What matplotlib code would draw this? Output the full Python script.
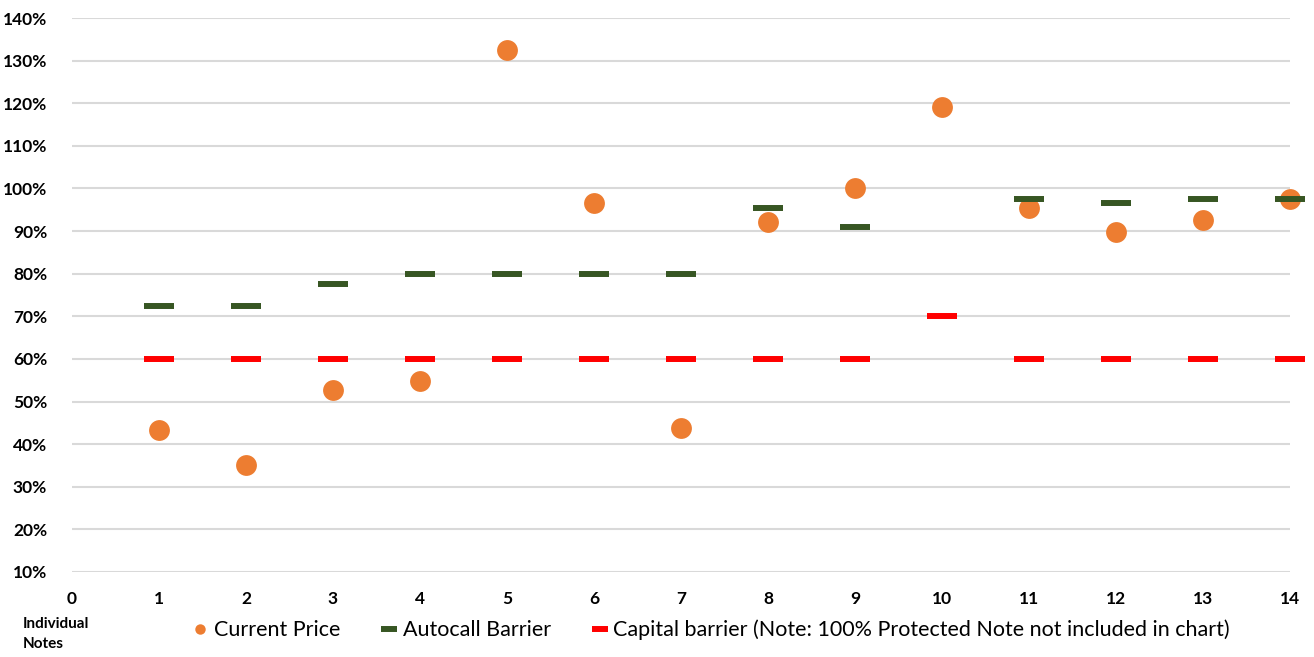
import matplotlib
matplotlib.use("Agg")
import matplotlib.pyplot as plt
from matplotlib.ticker import FuncFormatter

# note number on x, levels in % of initial
notes = [1, 2, 3, 4, 5, 6, 7, 8, 9, 10, 11, 12, 13, 14]
current_price = [43.3, 35.2, 52.7, 54.8, 132.5, 96.5, 43.8, 92.2, 100.0, 119.0, 95.5, 89.7, 92.5, 97.5]
# note 10 has no autocall barrier
autocall = [72.5, 72.5, 77.5, 80, 80, 80, 80, 95.5, 91, None, 97.5, 96.5, 97.5, 97.5]
capital = [60, 60, 60, 60, 60, 60, 60, 60, 60, 70, 60, 60, 60, 60]

ac_x = [n for n, v in zip(notes, autocall) if v is not None]
ac_y = [v for v in autocall if v is not None]

plt.rcParams['font.family'] = ['Lato', 'DejaVu Sans']

fig = plt.figure(figsize=(13.14, 6.57), dpi=100)
ax = fig.add_axes([0.0548, 0.1294, 0.9269, 0.8432])

ax.plot(notes, current_price, 'o', color='#ED7D31', markersize=15,
        markeredgewidth=0, linestyle='none', label='Current Price', zorder=3,
        clip_on=False)
ax.plot(ac_x, ac_y, '_', color='#375623', markersize=22, markeredgewidth=4.3,
        linestyle='none', label='Autocall Barrier', zorder=4, clip_on=False)
ax.plot(notes, capital, '_', color='#FF0000', markersize=22, markeredgewidth=4.3,
        linestyle='none', label='Capital barrier (Note: 100% Protected Note not included in chart)',
        zorder=4, clip_on=False)

ax.set_xlim(0, 14)
ax.set_ylim(10, 140)
ax.set_xticks(range(0, 15))
ax.set_yticks(range(10, 141, 10))
ax.yaxis.set_major_formatter(FuncFormatter(lambda v, p: f"{int(v)}%"))
ax.grid(axis='y', color='#d9d9d9', linewidth=1.5, zorder=0)
ax.set_axisbelow(True)
for s in ax.spines.values():
    s.set_visible(False)
ax.tick_params(length=0, labelsize=12.5)
ax.tick_params(axis='x', pad=14)
ax.tick_params(axis='y', pad=18)
for lab in ax.get_xticklabels() + ax.get_yticklabels():
    lab.set_fontweight('bold')

leg = fig.legend(loc='center', bbox_to_anchor=(0.542, 0.041), ncol=3, frameon=False,
                 fontsize=15.5, markerscale=0.5, handlelength=0.55, handletextpad=0.35,
                 columnspacing=2.0)

fig.text(0.017, 0.035, "Individual\nNotes", fontsize=11, fontweight='bold',
         va='center', ha='left', linespacing=1.5)

fig.savefig("out.png", dpi=100)
